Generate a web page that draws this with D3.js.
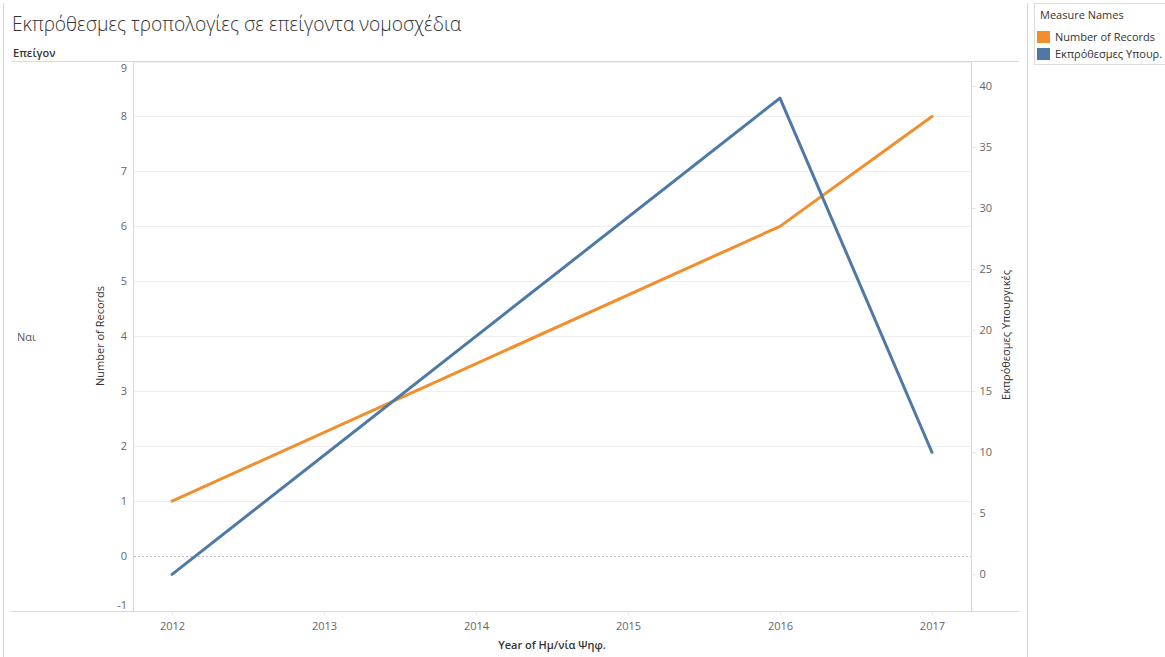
<!DOCTYPE html>
<html>
<head>
<meta charset="utf-8">
<script src="https://cdn.jsdelivr.net/npm/d3@7"></script>
<style>
  html, body { margin: 0; padding: 0; background: #fff; }
  svg { display: block; font-family: "Open Sans", "Noto Sans", sans-serif; }
</style>
</head>
<body>
<svg id="chart" width="1165" height="657"></svg>
<script>
// ---- data ----
const years = [2012, 2016, 2017];
const numberOfRecords = [1, 6, 8];
const overdueMinisterial = [0, 39, 10];
const xTickLabels = [2012, 2013, 2014, 2015, 2016, 2017];
const leftTicks = [-1, 0, 1, 2, 3, 4, 5, 6, 7, 8, 9];
const rightTicks = [0, 5, 10, 15, 20, 25, 30, 35, 40];
const seriesNames = ["Number of Records", "Εκπρόθεσμες Υπουρ."];
const seriesColors = ["#F28E2B", "#4E79A7"];

const svg = d3.select("#chart");

// layout
const plotL = 133, plotR = 971, plotT = 61.5, plotB = 611;

const x = d3.scaleLinear().domain([2011.743, 2017.257]).range([plotL, plotR]);
const yL = d3.scaleLinear().domain([-1, 9]).range([plotB, plotT]);
const yR = d3.scaleLinear().domain([-3, 42]).range([plotB, plotT]);

// frame lines
const frame = svg.append("g").attr("stroke", "#d9d9d9").attr("stroke-width", 1).attr("shape-rendering", "crispEdges");
frame.append("line").attr("x1", 3.5).attr("x2", 3.5).attr("y1", 3).attr("y2", 657);
frame.append("line").attr("x1", 1027.5).attr("x2", 1027.5).attr("y1", 3).attr("y2", 657);
frame.append("line").attr("x1", 11).attr("x2", 1019).attr("y1", 61.5).attr("y2", 61.5);
frame.append("line").attr("x1", 11).attr("x2", 1019).attr("y1", 611.5).attr("y2", 611.5);
frame.append("line").attr("x1", plotL + 0.5).attr("x2", plotL + 0.5).attr("y1", 61.5).attr("y2", 611.5);
frame.append("line").attr("x1", plotR + 0.5).attr("x2", plotR + 0.5).attr("y1", 61.5).attr("y2", 611.5);

// title
svg.append("text").attr("x", 12).attr("y", 31)
  .attr("font-size", 19.2).attr("font-weight", 300).attr("fill", "#333")
  .text("Εκπρόθεσμες τροπολογίες σε επείγοντα νομοσχέδια");

// header
svg.append("text").attr("x", 13).attr("y", 57)
  .attr("font-size", 11).attr("font-weight", 600).attr("fill", "#333")
  .text("Επείγον");
svg.append("text").attr("x", 17).attr("y", 341)
  .attr("font-size", 11).attr("fill", "#555")
  .text("Ναι");

// gridlines
const grid = svg.append("g");
grid.selectAll("line").data(leftTicks.filter(d => d !== 0 && d !== -1)).join("line")
  .attr("x1", plotL + 1).attr("x2", plotR)
  .attr("y1", d => Math.round(yL(d)) + 0.5).attr("y2", d => Math.round(yL(d)) + 0.5)
  .attr("stroke", "#efefef").attr("stroke-width", 1);
grid.append("line")
  .attr("x1", plotL + 1).attr("x2", plotR)
  .attr("y1", Math.round(yL(0)) + 0.5).attr("y2", Math.round(yL(0)) + 0.5)
  .attr("stroke", "#b8b8b8").attr("stroke-width", 1).attr("stroke-dasharray", "2,2");

// left axis
const leftAxis = d3.axisLeft(yL).tickValues(leftTicks).tickSize(0).tickPadding(6).tickFormat(d => String(d));
const gL = svg.append("g").attr("transform", `translate(${plotL},0)`).call(leftAxis);
gL.select(".domain").remove();
gL.selectAll("text").attr("font-size", 11).attr("fill", "#666").attr("font-family", "\"Open Sans\", sans-serif")
  .attr("dy", d => d === 9 ? "0.95em" : d === -1 ? "-0.25em" : "0.32em");

// right axis
const rightAxis = d3.axisRight(yR).tickValues(rightTicks).tickSize(4).tickPadding(4).tickFormat(d => String(d));
const gR = svg.append("g").attr("transform", `translate(${plotR + 0.5},0)`).call(rightAxis);
gR.select(".domain").remove();
gR.selectAll(".tick line").attr("stroke", "#e3e3e3");
gR.selectAll("text").attr("font-size", 11).attr("fill", "#666").attr("font-family", "\"Open Sans\", sans-serif");

// bottom axis
const bottomAxis = d3.axisBottom(x).tickValues(xTickLabels).tickSize(4).tickPadding(7).tickFormat(d => String(d));
const gB = svg.append("g").attr("transform", `translate(0,${plotB + 0.5})`).call(bottomAxis);
gB.select(".domain").remove();
gB.selectAll(".tick line").attr("stroke", "#ececec");
gB.selectAll("text").attr("font-size", 11).attr("fill", "#666").attr("font-family", "\"Open Sans\", sans-serif");

// axis titles
svg.append("text").attr("transform", `translate(104,336) rotate(-90)`)
  .attr("text-anchor", "middle").attr("font-size", 11).attr("fill", "#333")
  .text("Number of Records");
svg.append("text").attr("transform", `translate(1010,335) rotate(-90)`)
  .attr("text-anchor", "middle").attr("font-size", 11).attr("fill", "#333")
  .text("Εκπρόθεσμες Υπουργικές");
svg.append("text").attr("x", 552).attr("y", 649)
  .attr("text-anchor", "middle").attr("font-size", 11).attr("font-weight", 600).attr("fill", "#333")
  .text("Year of Ημ/νία Ψηφ.");

// lines
const lineL = d3.line().x((d, i) => x(years[i])).y(d => yL(d));
const lineR = d3.line().x((d, i) => x(years[i])).y(d => yR(d));
svg.append("path").datum(numberOfRecords).attr("d", lineL)
  .attr("fill", "none").attr("stroke", seriesColors[0]).attr("stroke-width", 3).attr("stroke-linejoin", "round").attr("stroke-linecap", "round");
svg.append("path").datum(overdueMinisterial).attr("d", lineR)
  .attr("fill", "none").attr("stroke", seriesColors[1]).attr("stroke-width", 3).attr("stroke-linejoin", "round").attr("stroke-linecap", "round");

// legend
const lg = svg.append("g");
lg.append("rect").attr("x", 1034.5).attr("y", 3.5).attr("width", 140).attr("height", 61)
  .attr("fill", "#fff").attr("stroke", "#dcdcdc");
lg.append("text").attr("x", 1040).attr("y", 19).attr("font-size", 11).attr("fill", "#333").text("Measure Names");
seriesNames.forEach((n, i) => {
  lg.append("rect").attr("x", 1037).attr("y", 31 + i * 17).attr("width", 13).attr("height", 12).attr("fill", seriesColors[i]);
  lg.append("text").attr("x", 1055).attr("y", 41 + i * 17).attr("font-size", 11).attr("fill", "#333").text(n);
});
</script>
</body>
</html>
